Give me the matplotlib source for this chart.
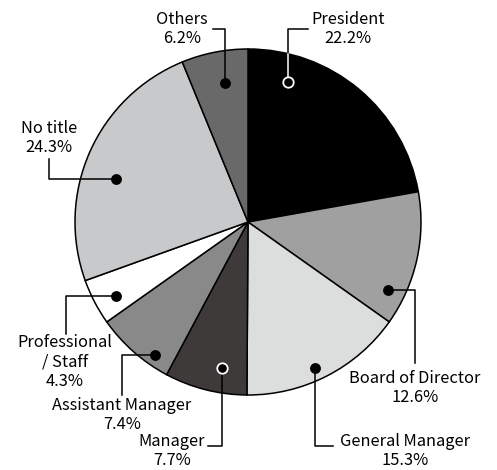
import matplotlib.pyplot as plt

plt.rcParams['font.family'] = ['Noto Sans CJK JP', 'DejaVu Sans']

# 数据
labels = ['President', 'Board of Director', 'General Manager', 'Manager',
          'Assistant Manager', 'Professional\n/ Staff', 'No title', 'Others']
values = [22.2, 12.6, 15.3, 7.7, 7.4, 4.3, 24.3, 6.2]
colors = ['#000000', '#a0a0a0', '#dcdddd', '#3e3a39',
          '#898989', '#ffffff', '#c8c9ca', '#6a6969']
open_dot = [True, False, False, True, False, False, False, False]

# 引出线布局（像素坐标，y向下）: 点, 拐点, 终点, 文字中心
W, H = 497, 470
CX, CY, R = 248, 222, 173
leaders = [
    [(288, 82), (288, 29), (308, 29), (348, 29)],
    [(388, 290), (415, 290), (415, 363), (415, 388)],
    [(315, 368), (315, 446), (333, 446), (405, 451)],
    [(222, 368), (222, 446), (208, 446), (172, 451)],
    [(155, 355), (122, 355), (122, 395), (122, 415)],
    [(116, 296), (66, 296), (66, 334), (65, 362)],
    [(116, 179), (49, 179), (49, 159), (49, 138)],
    [(225, 83), (225, 29), (213, 29), (182, 29)],
]

fig = plt.figure(figsize=(W / 100, H / 100), dpi=100)
ax = fig.add_axes([0, 0, 1, 1])

ax.pie(values, colors=colors, startangle=90, counterclock=False,
       center=(CX, H - CY), radius=R,
       wedgeprops=dict(edgecolor='black', linewidth=1.1), frame=True)
ax.set_xlim(0, W)
ax.set_ylim(0, H)
ax.axis('off')

for i, (lab, v, op, pts) in enumerate(zip(labels, values, open_dot, leaders)):
    p0, p1, p2, tc = pts
    ax.plot([p0[0], p1[0], p2[0]], [H - p0[1], H - p1[1], H - p2[1]],
            color='black', lw=1.1, zorder=3)
    if i == 0:
        # 黑色扇区内的引出线用白色
        edge_y = CY - (R ** 2 - (p0[0] - CX) ** 2) ** 0.5
        ax.plot([p0[0], p0[0]], [H - p0[1], H - edge_y],
                color='white', lw=1.1, zorder=3.5)
    ax.plot(p0[0], H - p0[1], 'o', ms=7.5 if op else 6.5,
            mfc='black', mec='white' if op else 'black', mew=1.3, zorder=4)
    ax.text(tc[0], H - tc[1], f'{lab}\n{v}%', ha='center', va='center',
            fontsize=11.8, linespacing=1.2, color='black')

plt.savefig('out.png', dpi=100)
